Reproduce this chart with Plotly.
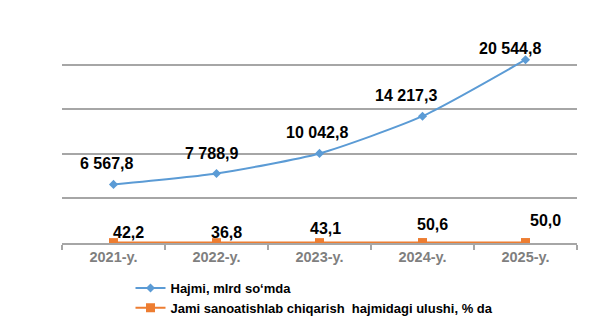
import plotly.graph_objects as go

years = ["2021-y.", "2022-y.", "2023-y.", "2024-y.", "2025-y."]
volume = [6567.8, 7788.9, 10042.8, 14217.3, 20544.8]   # mlrd so'm
share = [42.2, 36.8, 43.1, 50.6, 50.0]                 # % of total industrial output

volume_name = "Hajmi, mlrd so‘mda"
share_name = "Jami sanoatishlab chiqarish \u00a0hajmidagi ulushi, % da"

BLUE = "#5b9bd5"
ORANGE = "#ed7d31"
GRID = "#a6a6a6"
FONT = "Liberation Sans, Arial, sans-serif"


def fmt(v):
    """6567.8 -> '6 567,8'"""
    whole, frac = f"{v:.1f}".split(".")
    groups = []
    while len(whole) > 3:
        groups.insert(0, whole[-3:])
        whole = whole[:-3]
    groups.insert(0, whole)
    return " ".join(groups) + "," + frac


fig = go.Figure()
fig.add_trace(go.Scatter(
    x=years, y=volume, name=volume_name, mode="lines+markers",
    line=dict(color=BLUE, width=2, shape="spline", smoothing=0.6),
    marker=dict(symbol="diamond", size=7, color=BLUE),
))
fig.add_trace(go.Scatter(
    x=years, y=share, name=share_name, mode="lines+markers",
    line=dict(color=ORANGE, width=2),
    marker=dict(symbol="square", size=9, color=ORANGE),
))

# value labels (pixel nudges keep them clear of the lines)
vol_shift = [(-7, 21), (-5, 20), (-3, 21), (-17, 21), (-16, 11)]
share_shift = [(15, 10), (10, 10), (6, 14), (10, 18), (20, 22)]
for x, v, (dx, dy) in zip(years, volume, vol_shift):
    fig.add_annotation(x=x, y=v, text=fmt(v), showarrow=False,
                       xshift=dx, yshift=dy,
                       font=dict(family=FONT, size=16, color="#000", weight="bold"))
for x, v, (dx, dy) in zip(years, share, share_shift):
    fig.add_annotation(x=x, y=v, text=fmt(v), showarrow=False,
                       xshift=dx, yshift=dy,
                       font=dict(family=FONT, size=16, color="#000", weight="bold"))

fig.update_layout(
    width=607, height=333,
    margin=dict(l=62, r=30, t=20, b=90, autoexpand=False),
    paper_bgcolor="white", plot_bgcolor="white",
    font=dict(family=FONT),
    showlegend=True,
    legend=dict(
        xref="container", yref="container",
        x=0.215, y=1 - 273 / 333, xanchor="left", yanchor="top",
        orientation="v", itemwidth=30, tracegroupgap=0,
        font=dict(family=FONT, size=13, color="#000", weight="bold"),
        bgcolor="rgba(0,0,0,0)",
    ),
    xaxis=dict(
        type="category", range=[-0.5, 4.5],
        showline=True, linecolor=GRID, linewidth=1.5,
        ticks="outside", tickson="boundaries", ticklen=5, tickcolor=GRID,
        tickwidth=1.5, showgrid=False,
        tickfont=dict(family=FONT, size=14.5, color="#7f7f7f", weight="bold"),
    ),
    yaxis=dict(
        range=[0, 25000], dtick=5000, showticklabels=False,
        showgrid=True, gridcolor=GRID, gridwidth=1.5,
        zeroline=False, showline=False, ticks="",
    ),
)

fig.write_html("out.html")
